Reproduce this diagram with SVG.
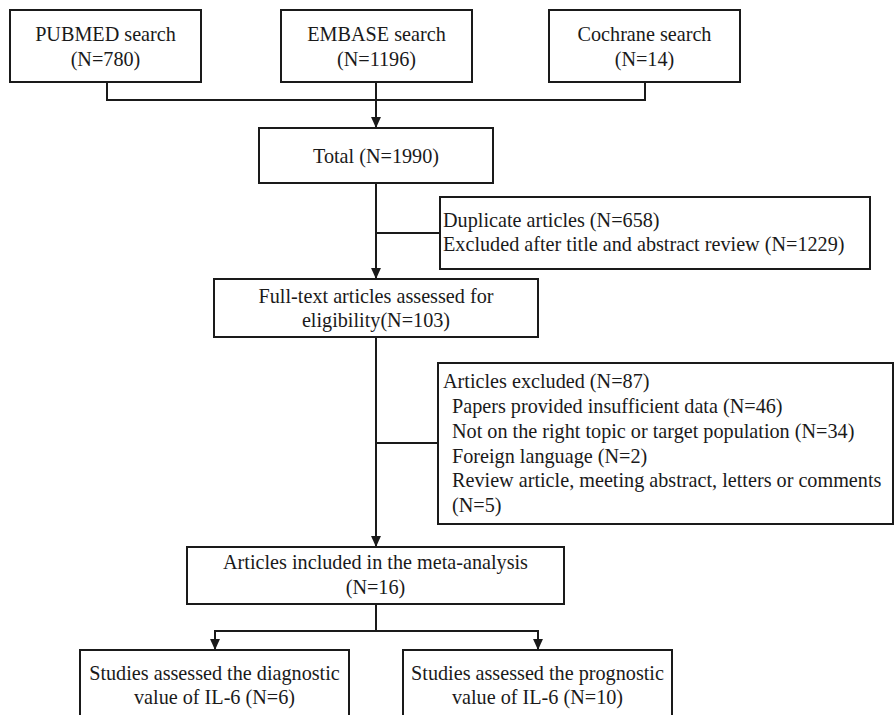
<svg xmlns="http://www.w3.org/2000/svg" width="894" height="715" viewBox="0 0 894 715">
<defs>
<style>
.box{fill:#fff;stroke:#1a1a1a;stroke-width:2}
.ln{fill:none;stroke:#1a1a1a;stroke-width:2}
text{font-family:"Liberation Serif","Times New Roman",serif;font-size:20.2px;fill:#1a1a1a}
.c{text-anchor:middle}
</style>
<marker id="ah" viewBox="0 0 10 10" refX="10" refY="5" markerWidth="11" markerHeight="11" markerUnits="userSpaceOnUse" orient="auto">
<path d="M0,0.5 L10,5 L0,9.5 Z" fill="#1a1a1a"/>
</marker>
</defs>
<rect width="894" height="715" fill="#fff"/>
<g id="connectors">
<polyline class="ln" points="107,82 107,100 645,100 645,82"/>
<line class="ln" x1="376" y1="82" x2="376" y2="128" marker-end="url(#ah)"/>
<line class="ln" x1="376" y1="183" x2="376" y2="279" marker-end="url(#ah)"/>
<line class="ln" x1="376" y1="233" x2="440" y2="233"/>
<line class="ln" x1="376" y1="337" x2="376" y2="547" marker-end="url(#ah)"/>
<line class="ln" x1="376" y1="443" x2="438" y2="443"/>
<polyline class="ln" points="376,604 376,631"/>
<polyline class="ln" points="215,631 538,631"/>
<line class="ln" x1="215" y1="630" x2="215" y2="650" marker-end="url(#ah)"/>
<line class="ln" x1="538" y1="630" x2="538" y2="650" marker-end="url(#ah)"/>
</g>
<g id="pubmed">
<rect class="box" x="10" y="10" width="191" height="72"/>
<text class="c" x="105.5" y="41">PUBMED search</text>
<text class="c" x="105.5" y="66">(N=780)</text>
</g>
<g id="embase">
<rect class="box" x="281" y="10" width="191" height="72"/>
<text class="c" x="376.5" y="41">EMBASE search</text>
<text class="c" x="376.5" y="66">(N=1196)</text>
</g>
<g id="cochrane">
<rect class="box" x="549" y="10" width="191" height="72"/>
<text class="c" x="644.5" y="41">Cochrane search</text>
<text class="c" x="644.5" y="66">(N=14)</text>
</g>
<g id="total">
<rect class="box" x="259" y="128" width="234" height="55"/>
<text class="c" x="376" y="163">Total (N=1990)</text>
</g>
<g id="duplicate">
<rect class="box" x="440" y="197" width="430" height="72"/>
<text x="443" y="227">Duplicate articles (N=658)</text>
<text x="443" y="251">Excluded after title and abstract review (N=1229)</text>
</g>
<g id="fulltext">
<rect class="box" x="214" y="279" width="324" height="58"/>
<text class="c" x="376" y="303">Full-text articles assessed for</text>
<text class="c" x="376" y="327">eligibility(N=103)</text>
</g>
<g id="excluded">
<rect class="box" x="438" y="363" width="455" height="161"/>
<text x="443" y="388">Articles excluded (N=87)</text>
<text x="452" y="413">Papers provided insufficient data (N=46)</text>
<text x="452" y="438">Not on the right topic or target population (N=34)</text>
<text x="452" y="463">Foreign language (N=2)</text>
<text x="452" y="487">Review article, meeting abstract, letters or comments</text>
<text x="452" y="512">(N=5)</text>
</g>
<g id="included">
<rect class="box" x="187" y="547" width="377" height="57"/>
<text class="c" x="375.5" y="569">Articles included in the meta-analysis</text>
<text class="c" x="375.5" y="594">(N=16)</text>
</g>
<g id="diagnostic">
<rect class="box" x="80" y="650" width="269" height="75"/>
<text class="c" x="214.5" y="680">Studies assessed the diagnostic</text>
<text class="c" x="214.5" y="704">value of IL-6 (N=6)</text>
</g>
<g id="prognostic">
<rect class="box" x="403" y="650" width="269" height="75"/>
<text class="c" x="537.5" y="680">Studies assessed the prognostic</text>
<text class="c" x="537.5" y="704">value of IL-6 (N=10)</text>
</g>
</svg>
